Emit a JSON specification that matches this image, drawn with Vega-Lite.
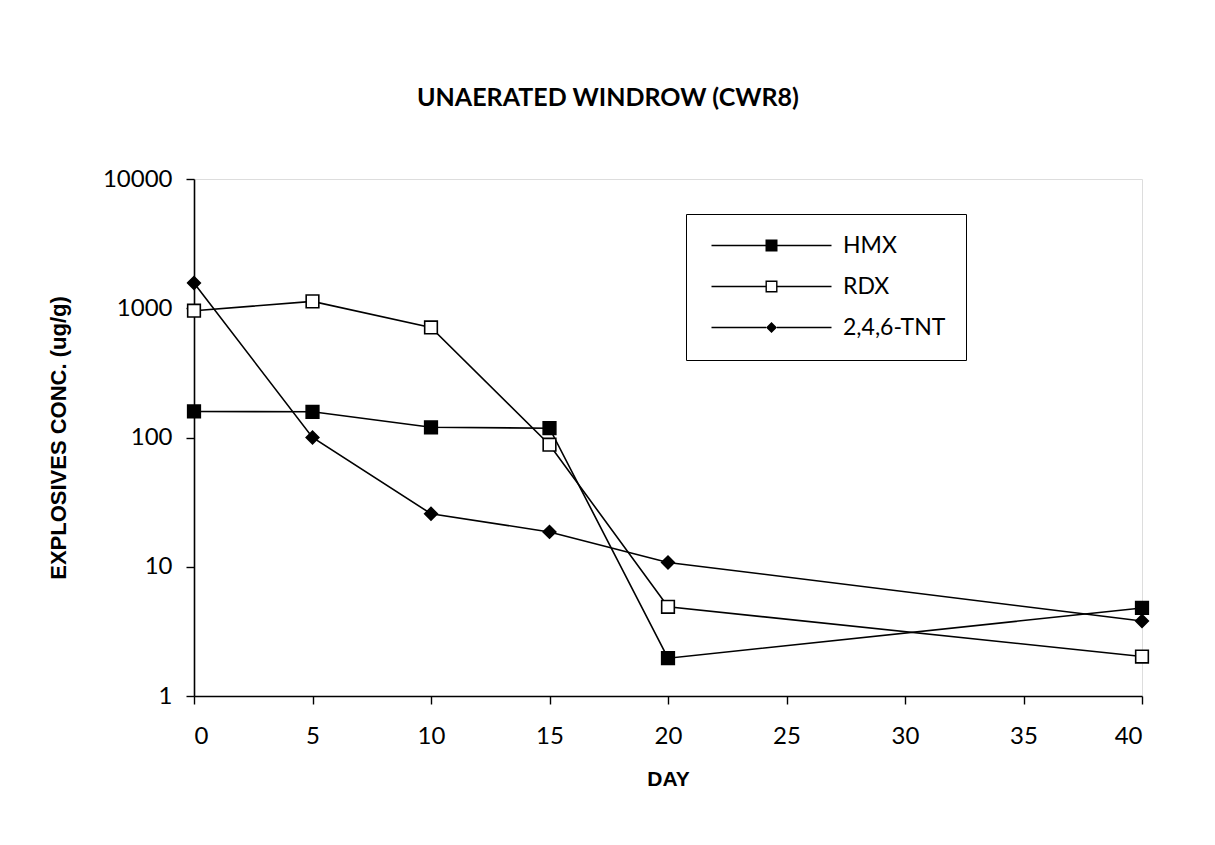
{
  "$schema": "https://vega.github.io/schema/vega-lite/v6.json",
  "width": 948,
  "height": 517,
  "autosize": "none",
  "padding": {"left": 194, "top": 179, "right": 73, "bottom": 149},
  "background": "white",
  "title": {
    "text": "UNAERATED WINDROW (CWR8)",
    "font": "Lato",
    "fontWeight": "bold",
    "fontSize": 25,
    "color": "black",
    "frame": "group",
    "anchor": "middle",
    "dx": -60,
    "baseline": "alphabetic",
    "offset": 36
  },
  "data": {
    "values": [
      {"day": 0, "series": "HMX", "conc": 159},
      {"day": 5, "series": "HMX", "conc": 158},
      {"day": 10, "series": "HMX", "conc": 120},
      {"day": 15, "series": "HMX", "conc": 118},
      {"day": 20, "series": "HMX", "conc": 1.96},
      {"day": 40, "series": "HMX", "conc": 4.8},
      {"day": 0, "series": "RDX", "conc": 957},
      {"day": 5, "series": "RDX", "conc": 1130},
      {"day": 10, "series": "RDX", "conc": 710},
      {"day": 15, "series": "RDX", "conc": 88},
      {"day": 20, "series": "RDX", "conc": 4.9},
      {"day": 40, "series": "RDX", "conc": 2.02},
      {"day": 0, "series": "2,4,6-TNT", "conc": 1570},
      {"day": 5, "series": "2,4,6-TNT", "conc": 100},
      {"day": 10, "series": "2,4,6-TNT", "conc": 25.7},
      {"day": 15, "series": "2,4,6-TNT", "conc": 18.6},
      {"day": 20, "series": "2,4,6-TNT", "conc": 10.8},
      {"day": 40, "series": "2,4,6-TNT", "conc": 3.8}
    ]
  },
  "encoding": {
    "x": {
      "field": "day",
      "type": "quantitative",
      "scale": {"domain": [0, 40], "nice": false, "zero": false},
      "axis": {
        "title": "DAY",
        "values": [0, 5, 10, 15, 20, 25, 30, 35, 40],
        "grid": false,
        "domainColor": "black",
        "domainWidth": 1.6,
        "tickColor": "black",
        "tickWidth": 1.4,
        "tickSize": 8,
        "labelFont": "Lato",
        "labelFontSize": 24,
        "labelColor": "black",
        "labelPadding": 20,
        "titleFont": "Liberation Sans",
        "titleFontWeight": "bold",
        "titleFontSize": 21,
        "titleColor": "black",
        "titlePadding": 20
      }
    },
    "y": {
      "field": "conc",
      "type": "quantitative",
      "scale": {"type": "log", "domain": [1, 10000], "nice": false},
      "axis": {
        "title": "EXPLOSIVES CONC. (ug/g)",
        "values": [1, 10, 100, 1000, 10000],
        "format": "d",
        "grid": false,
        "domainColor": "black",
        "domainWidth": 1.6,
        "tickColor": "black",
        "tickWidth": 1.4,
        "tickSize": 8,
        "labelFont": "Lato",
        "labelFontSize": 24,
        "labelColor": "black",
        "labelPadding": 14,
        "titleFont": "Liberation Sans",
        "titleFontWeight": "bold",
        "titleFontSize": 22,
        "titleColor": "black",
        "titlePadding": 32
      }
    }
  },
  "layer": [
    {
      "mark": {"type": "line", "color": "black", "strokeWidth": 1.6},
      "encoding": {"detail": {"field": "series"}}
    },
    {
      "mark": {"type": "point", "filled": true, "opacity": 1, "size": 160, "stroke": "black", "strokeWidth": 1.6},
      "encoding": {
        "fill": {"condition": {"test": "datum.series === 'RDX'", "value": "white"}, "value": "black"},
        "shape": {"condition": {"test": "datum.series === '2,4,6-TNT'", "value": "diamond"}, "value": "square"}
      }
    },
    {
      "mark": {"type": "point", "filled": true, "fill": "black", "opacity": 0, "size": 160},
      "encoding": {
        "shape": {
          "field": "series",
          "type": "nominal",
          "scale": {
            "domain": ["HMX", "RDX", "2,4,6-TNT"],
            "range": [
              "M-6,-0.07H-0.6V0.07H-6ZM0.6,-0.07H6V0.07H0.6ZM-0.6,-0.6H0.6V0.6H-0.6Z",
              "M-6,-0.07H-0.6V0.07H-6ZM0.6,-0.07H6V0.07H0.6ZM-0.6,-0.6H0.6V0.6H-0.6ZM-0.46,-0.46V0.46H0.46V-0.46Z",
              "M-6,-0.07H-0.55V0.07H-6ZM0.55,-0.07H6V0.07H0.55ZM0,-0.55L0.55,0L0,0.55L-0.55,0Z"
            ]
          },
          "legend": {
            "title": null,
            "orient": "none",
            "legendX": 492,
            "legendY": 35,
            "padding": 20,
            "strokeColor": "black",
            "fillColor": "white",
            "symbolSize": 400,
            "symbolOffset": 54,
            "symbolOpacity": 1,
            "symbolFillColor": "black",
            "symbolStrokeWidth": 0,
            "labelFont": "Lato",
            "labelFontSize": 23,
            "labelColor": "black",
            "labelOffset": 60,
            "rowPadding": 17
          }
        }
      }
    }
  ]
}
